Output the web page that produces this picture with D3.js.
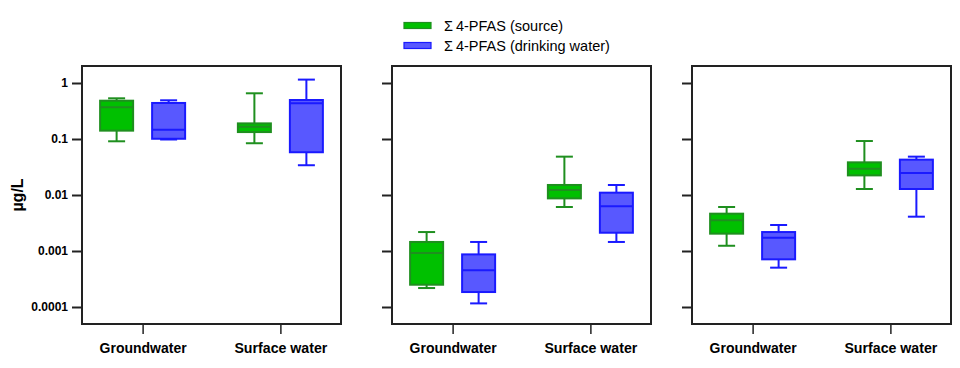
<!DOCTYPE html>
<html><head><meta charset="utf-8">
<script src="https://cdn.jsdelivr.net/npm/d3@7"></script>
<style>body{margin:0;background:#fff}svg{display:block}</style>
</head><body>
<svg id="c" width="960" height="368"></svg>
<script>
// ---- data ----
const panels = ["A", "B", "C"];
const categories = ["Groundwater", "Surface water"];
const seriesNames = ["Σ4-PFAS (source)", "Σ4-PFAS (drinking water)"];
const yTicks = [1, 0.1, 0.01, 0.001, 0.0001];
const yTickLabels = ["1", "0.1", "0.01", "0.001", "0.0001"];
// each stat: [min, q1, median, q3, max]
const sourceStats = [
  [[0.091, 0.141, 0.368, 0.483, 0.533], [0.084, 0.133, 0.165, 0.190, 0.655]],
  [[0.000218, 0.00025, 0.00092, 0.00145, 0.00218], [0.0061, 0.0087, 0.0123, 0.0151, 0.0484]],
  [[0.00124, 0.00204, 0.00353, 0.00464, 0.0061], [0.0128, 0.0224, 0.0295, 0.0383, 0.092]]
];
const drinkingStats = [
  [[0.098, 0.101, 0.147, 0.44, 0.491], [0.034, 0.058, 0.434, 0.497, 1.15]],
  [[0.000116, 0.000185, 0.000452, 0.00087, 0.00145], [0.00145, 0.00212, 0.00628, 0.011, 0.0151]],
  [[0.000504, 0.00071, 0.00173, 0.00218, 0.00291], [0.0041, 0.0128, 0.0247, 0.0428, 0.0484]]
];
const fills = ["#00c000", "#5858ff"];
const strokes = ["#1f8f1f", "#1a1aff"];

// ---- layout ----
const svg = d3.select("#c");
const panelLeft = [82, 392, 692];
const panelW = 259, plotTop = 66, plotBottom = 324;
const ext = 17 / 56;
const y = d3.scaleLog().domain([Math.pow(10, -4 - ext), Math.pow(10, ext)]).range([plotBottom, plotTop]);
const boxW = 33, off = 26, capW = 17;

// legend
const leg = svg.append("g");
seriesNames.forEach((s, i) => {
  const gy = 25.5 + i * 20;
  leg.append("rect").attr("x", 404).attr("y", gy - 3).attr("width", 27).attr("height", 6)
    .attr("fill", fills[i]).attr("stroke", strokes[i]).attr("stroke-width", 1.2);
  const t = leg.append("text").attr("x", 444).attr("y", gy + 5)
    .attr("font-family", "Liberation Sans, Arial, sans-serif").attr("font-size", 14.5)
    .attr("fill", "#000");
  t.append("tspan").text(s.slice(0, 1));
  t.append("tspan").attr("dx", 3).text(s.slice(1));
});

// y label
svg.append("text").attr("transform", "translate(23,195) rotate(-90)")
  .attr("text-anchor", "middle").attr("font-family", "Liberation Sans, Arial, sans-serif")
  .attr("font-weight", "bold").attr("font-size", 16).text("µg/L");

panels.forEach((p, pi) => {
  const g = svg.append("g").attr("transform", `translate(${panelLeft[pi]},0)`);
  const x = d3.scalePoint().domain(categories).range([0, panelW]).padding(0.44);

  // y axis ticks
  const ya = d3.axisLeft(y).tickValues(yTicks).tickSize(10).tickPadding(4)
    .tickFormat((d, i) => pi === 0 ? yTickLabels[i] : "");
  const yg = g.append("g").call(ya);
  yg.select(".domain").remove();
  yg.selectAll("line").attr("stroke", "#222").attr("stroke-width", 2);
  yg.selectAll("text").attr("font-family", "Liberation Sans, Arial, sans-serif")
    .attr("font-weight", "bold").attr("font-size", 12).attr("fill", "#000");

  // x axis ticks
  const xa = d3.axisBottom(x).tickSize(10).tickPadding(6);
  const xg = g.append("g").attr("transform", `translate(0,${plotBottom})`).call(xa);
  xg.select(".domain").remove();
  xg.selectAll("line").attr("stroke", "#222").attr("stroke-width", 1.5);
  xg.selectAll("text").attr("font-family", "Liberation Sans, Arial, sans-serif")
    .attr("font-weight", "bold").attr("font-size", 14).attr("fill", "#000")
    .attr("dy", "0.95em")
    .attr("textLength", d => d === "Groundwater" ? 87 : 93).attr("lengthAdjust", "spacingAndGlyphs");

  // boxes
  [sourceStats[pi], drinkingStats[pi]].forEach((stats, si) => {
    stats.forEach((st, ci) => {
      const cx = x(categories[ci]) + (si === 0 ? -off : off);
      const [mn, q1, md, q3, mx] = st;
      const bg = g.append("g").attr("stroke", strokes[si]).attr("stroke-width", 2);
      bg.append("line").attr("x1", cx).attr("x2", cx).attr("y1", y(mx)).attr("y2", y(q3));
      bg.append("line").attr("x1", cx).attr("x2", cx).attr("y1", y(q1)).attr("y2", y(mn));
      bg.append("line").attr("x1", cx - capW / 2).attr("x2", cx + capW / 2).attr("y1", y(mx)).attr("y2", y(mx));
      bg.append("line").attr("x1", cx - capW / 2).attr("x2", cx + capW / 2).attr("y1", y(mn)).attr("y2", y(mn));
      bg.append("rect").attr("x", cx - boxW / 2).attr("width", boxW)
        .attr("y", y(q3)).attr("height", y(q1) - y(q3)).attr("fill", fills[si]);
      bg.append("line").attr("x1", cx - boxW / 2).attr("x2", cx + boxW / 2).attr("y1", y(md)).attr("y2", y(md));
    });
  });

  // frame
  g.append("rect").attr("x", 0).attr("y", plotTop).attr("width", panelW).attr("height", plotBottom - plotTop)
    .attr("fill", "none").attr("stroke", "#222").attr("stroke-width", 2);
});
</script>
</body></html>
